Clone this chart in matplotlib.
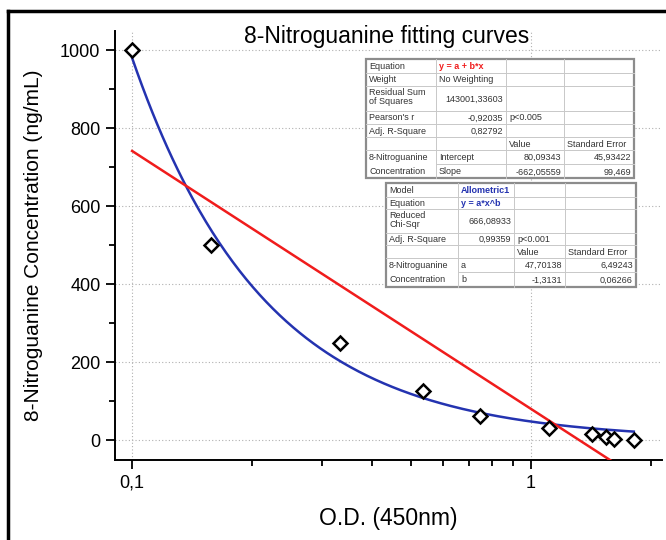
import numpy as np
import matplotlib.pyplot as plt
from matplotlib.patches import Rectangle
from matplotlib.lines import Line2D
from matplotlib.ticker import FixedLocator, FuncFormatter, LogLocator, NullFormatter

plt.rcParams['font.family'] = ['Liberation Sans', 'DejaVu Sans']

# =========================
# DATA
# =========================
od = [0.1, 0.158, 0.332, 0.536, 0.745, 1.11, 1.42, 1.54, 1.61, 1.81]
conc = [1000, 500, 250, 125, 62.5, 31.25, 15.6, 7.8, 3.9, 0]

# linear fit (against log10 of O.D.)
lin_a, lin_b = 80.09343, -662.05559
# allometric fit
allo_a, allo_b = 47.70138, -1.3131

table1 = [
    ["Equation", "y = a + b*x", "", ""],
    ["Weight", "No Weighting", "", ""],
    ["Residual Sum\nof Squares", "143001,33603", "", ""],
    ["Pearson's r", "-0,92035", "p<0.005", ""],
    ["Adj. R-Square", "0,82792", "", ""],
    ["", "", "Value", "Standard Error"],
    ["8-Nitroguanine", "Intercept", "80,09343", "45,93422"],
    ["Concentration", "Slope", "-662,05559", "99,469"],
]
table2 = [
    ["Model", "Allometric1", "", ""],
    ["Equation", "y = a*x^b", "", ""],
    ["Reduced\nChi-Sqr", "666,08933", "", ""],
    ["Adj. R-Square", "0,99359", "p<0.001", ""],
    ["", "", "Value", "Standard Error"],
    ["8-Nitroguanine", "a", "47,70138", "6,49243"],
    ["Concentration", "b", "-1,3131", "0,06266"],
]

# =========================
# FIGURE
# =========================
W, H = 666, 540
fig = plt.figure(figsize=(W / 100, H / 100), dpi=100)


def px(x, y):
    return x / W, 1 - y / H


l, t = px(115, 31)
r, b = px(662, 460)
ax = fig.add_axes([l, b, r - l, t - b])

ax.set_xscale('log')
ax.set_xlim(0.0906, 2.13)
ax.set_ylim(-51, 1050)

xs = np.geomspace(0.1, 1.81, 300)
ax.plot(xs, allo_a * xs ** allo_b, color='#2433b0', lw=1.8, zorder=3)
xr = np.geomspace(0.1, 1.7, 100)
ax.plot(xr, lin_a + lin_b * np.log10(xr), color='#f01c1c', lw=1.8, zorder=3)
ax.plot(od, conc, linestyle='none', marker='D', ms=7.5, mfc='white',
        mec='black', mew=1.8, zorder=4)

for side in ['top', 'right']:
    ax.spines[side].set_visible(False)
for side in ['left', 'bottom']:
    ax.spines[side].set_linewidth(1.4)

ax.yaxis.set_major_locator(FixedLocator([0, 200, 400, 600, 800, 1000]))
ax.yaxis.set_minor_locator(FixedLocator([100, 300, 500, 700, 900]))
ax.xaxis.set_major_locator(FixedLocator([0.1, 1]))
ax.xaxis.set_minor_locator(LogLocator(base=10, subs=np.arange(2, 10)))
ax.xaxis.set_minor_formatter(NullFormatter())
ax.xaxis.set_major_formatter(FuncFormatter(lambda v, p: "0,1" if v < 0.5 else "1"))

ax.tick_params(which='major', direction='out', length=6.5, width=1.3,
               labelsize=13, pad=4)
ax.tick_params(which='minor', direction='out', length=4, width=1.3)
ax.grid(True, which='major', linestyle=(0, (1, 2)), color='#b0b0b0', lw=0.8)

ax.set_xlabel("O.D. (450nm)", fontsize=16.5, labelpad=11)
ax.set_ylabel("8-Nitroguanine Concentration (ng/mL)", fontsize=15, labelpad=12)
fig.text(*px(387, 37), "8-Nitroguanine fitting curves", fontsize=16.5,
         ha='center', va='center')

# outer frame
fig.add_artist(Line2D([8 / W, 1.0], [1 - 11 / H] * 2, color='black', lw=2.5))
fig.add_artist(Line2D([8 / W] * 2, [0.0, 1 - 11 / H], color='black', lw=2.5))


# =========================
# RESULT TABLES
# =========================
def is_num(s):
    try:
        float(s.replace(',', '.'))
        return True
    except ValueError:
        return False


def draw_table(rows, col_x, row_y, special):
    x0, y0 = px(col_x[0], row_y[0])
    x1, y1 = px(col_x[-1], row_y[-1])
    fig.add_artist(Rectangle((x0, y1), x1 - x0, y0 - y1, facecolor='white',
                             edgecolor='#8c8c8c', lw=1.6, zorder=10))
    n = len(rows)
    # horizontal lines (merged first column on the last two rows)
    for i in range(1, n):
        start = col_x[1] if i == n - 1 else col_x[0]
        fig.add_artist(Line2D([start / W, col_x[-1] / W], [1 - row_y[i] / H] * 2,
                              color='#c8c8c8', lw=0.7, zorder=11))
    for c in col_x[1:-1]:
        fig.add_artist(Line2D([c / W] * 2, [1 - row_y[0] / H, 1 - row_y[-1] / H],
                              color='#c8c8c8', lw=0.7, zorder=11))
    for i, row in enumerate(rows):
        top, bot = row_y[i], row_y[i + 1]
        for j, s in enumerate(row):
            if not s:
                continue
            color, weight = special.get((i, j), ('#333333', 'normal'))
            right = j > 0 and is_num(s)
            xx = col_x[j + 1] - 3 if right else col_x[j] + 3
            if '\n' in s:
                yy, va = top + 2, 'top'
            else:
                yy, va = (top + bot) / 2 + 0.5, 'center'
            fig.text(xx / W, 1 - yy / H, s, fontsize=6.5, color=color,
                     weight=weight, ha='right' if right else 'left', va=va,
                     linespacing=1.05, zorder=12)


draw_table(table1, [366, 436, 506, 564, 634],
           [59, 72.7, 86, 111, 124, 137.3, 150, 164.3, 178.5],
           {(0, 1): ('#f01c1c', 'bold')})
draw_table(table2, [386, 458, 514, 565, 636],
           [183, 196.5, 209, 232.5, 245, 258.3, 272, 287],
           {(0, 1): ('#2433b0', 'bold'), (1, 1): ('#2433b0', 'bold')})

fig.savefig("out.png", dpi=100)
